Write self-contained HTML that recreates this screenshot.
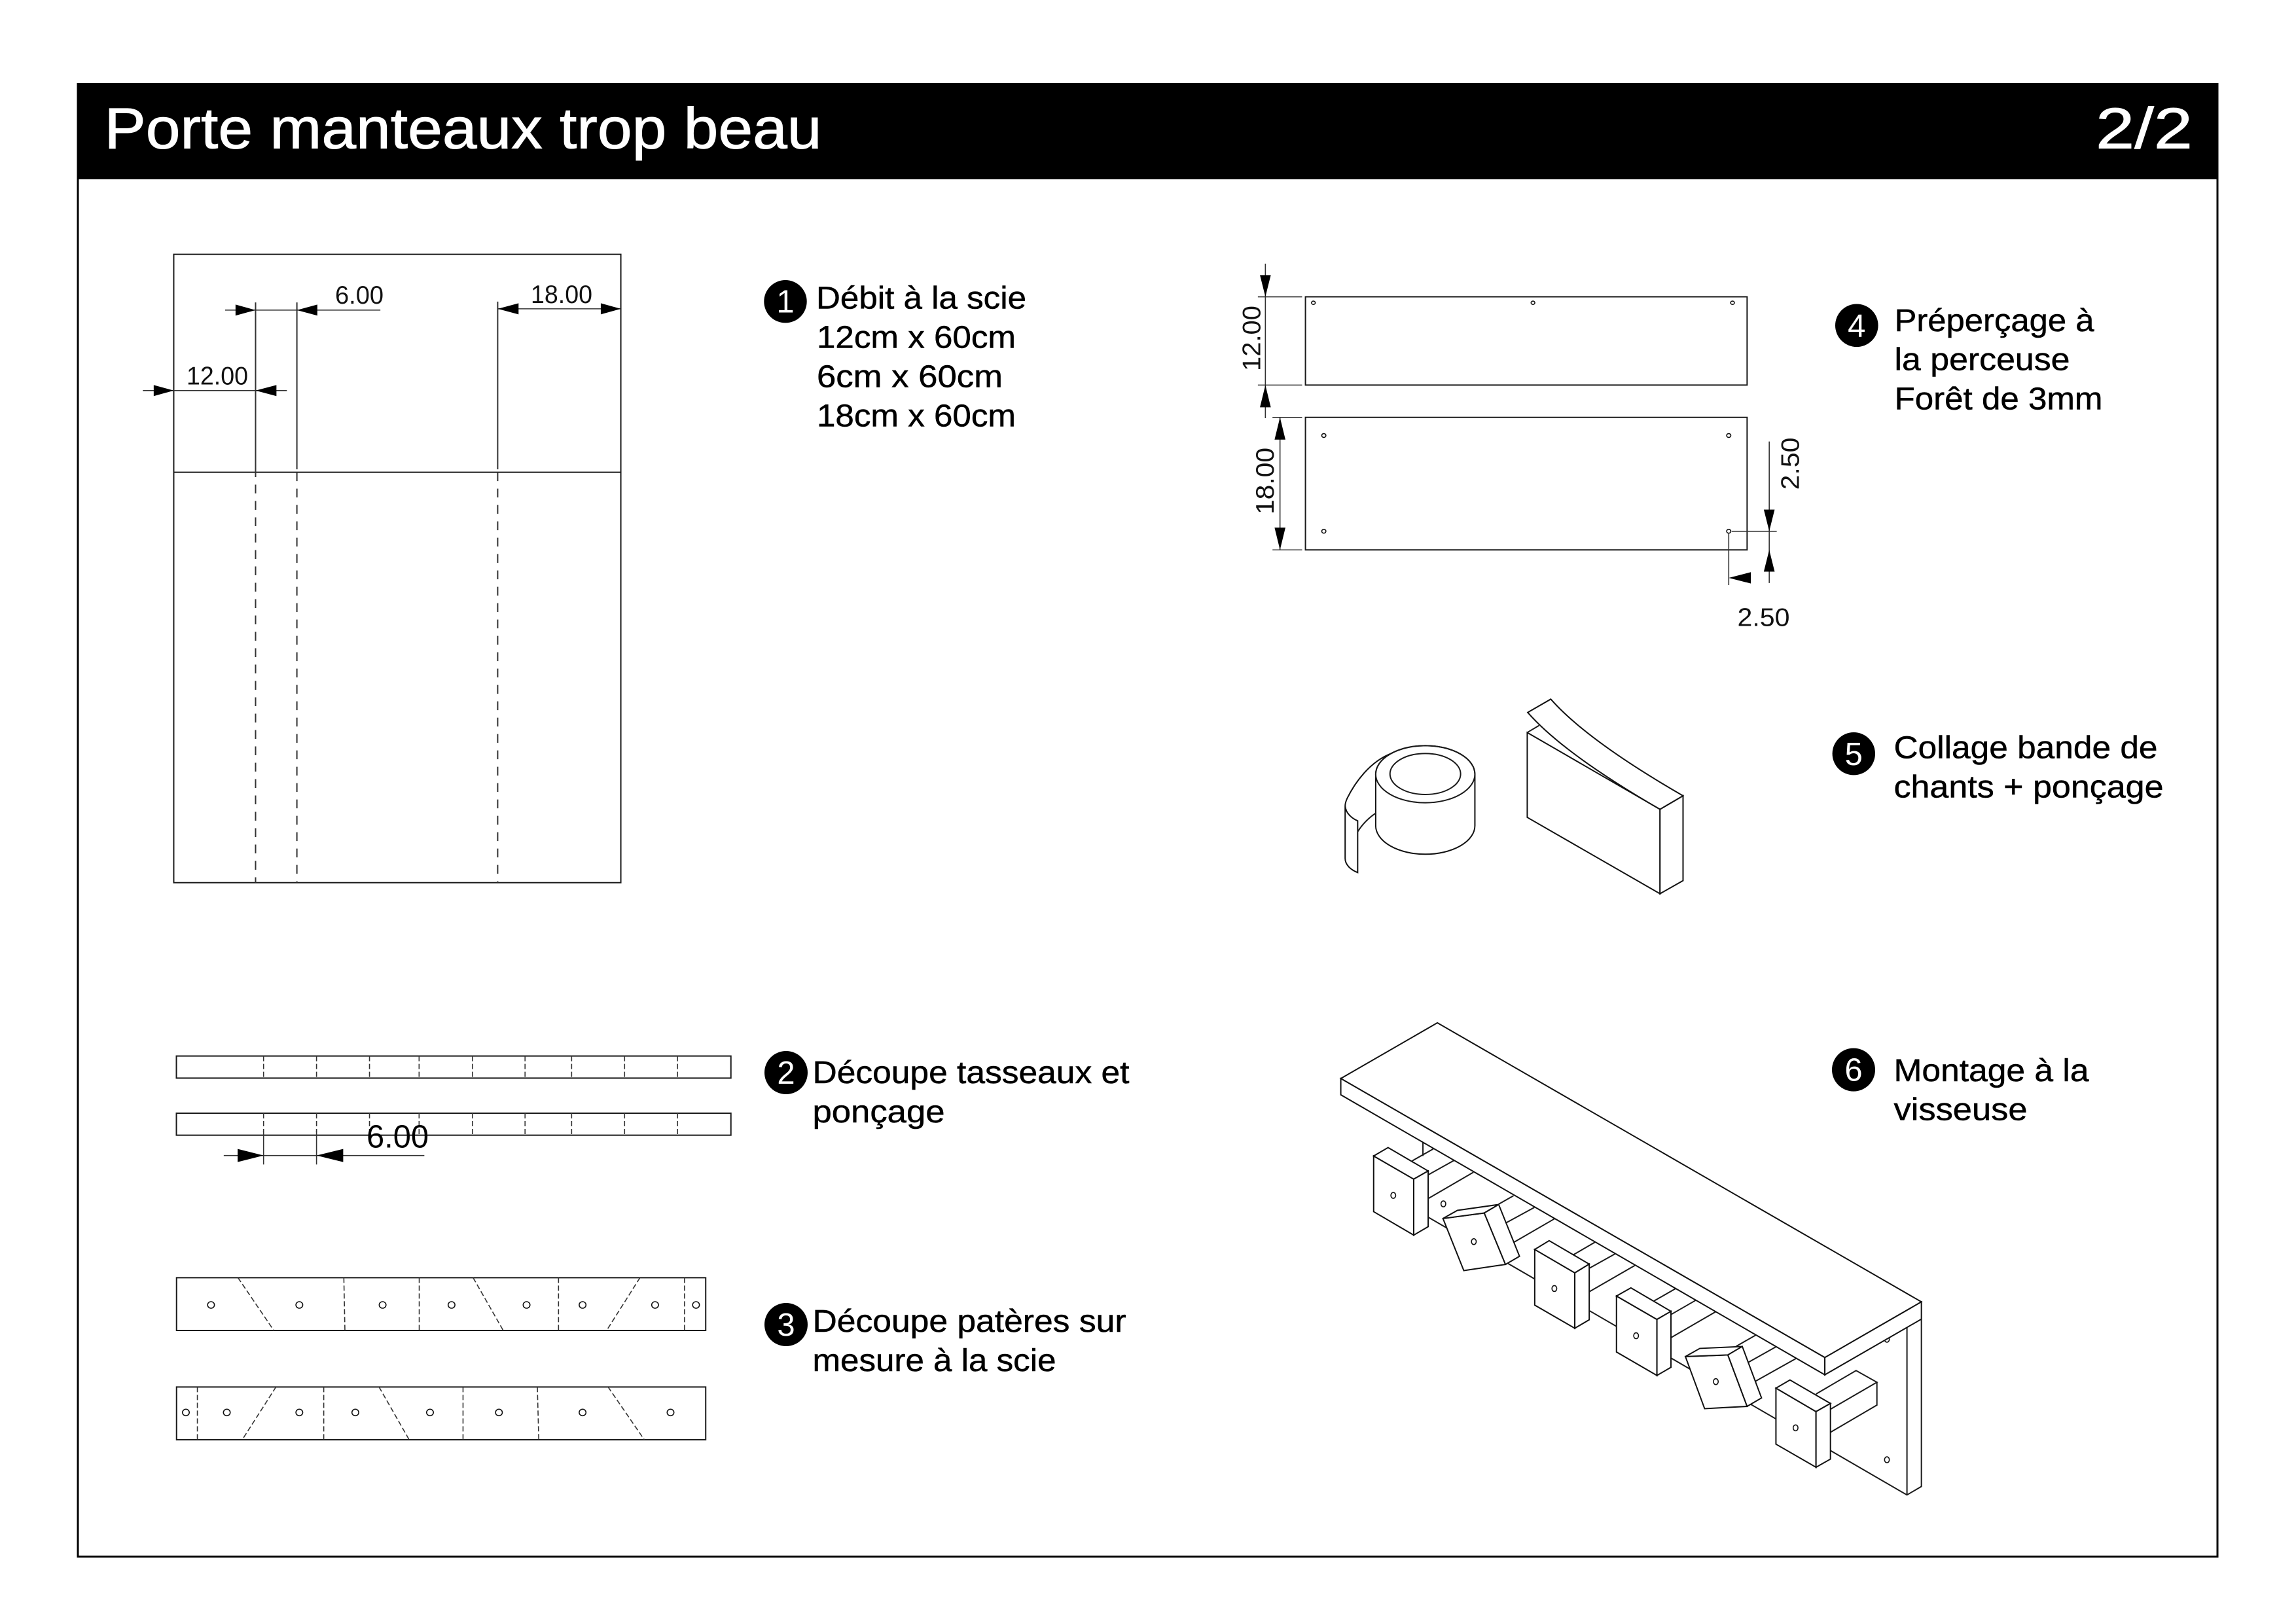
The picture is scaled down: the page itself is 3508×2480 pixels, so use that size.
<!DOCTYPE html>
<html lang="fr">
<head>
<meta charset="utf-8">
<title>Porte manteaux trop beau</title>
<style>
html,body{margin:0;padding:0;background:#fff}
svg{display:block}
text{font-family:"Liberation Sans",Arial,sans-serif;fill:#000}
.s *{vector-effect:non-scaling-stroke;stroke-linejoin:miter}
.t{font-size:48px;stroke:#000;stroke-width:.5px}
.d{font-size:39px;fill:#111}
.n{font-size:49px;fill:#fff;text-anchor:middle}
.l{fill:none;stroke:#1a1a1a;stroke-width:2}
.w{fill:#fff;stroke:#111;stroke-width:2}
.m{fill:none;stroke:#333;stroke-width:1.6}
.a{fill:#000;stroke:none}
.h{fill:#fff;stroke:#111;stroke-width:1.6}
</style>
</head>
<body>
<svg xmlns="http://www.w3.org/2000/svg" width="3508" height="2480" viewBox="0 0 3508 2480">
<rect width="3508" height="2480" fill="#fff"/>

<!-- frame and header -->
<rect x="119" y="128.500" width="3269" height="2250" fill="none" stroke="#000" stroke-width="3"/>
<rect x="118" y="128" width="3271" height="146" fill="#000"/>
<text x="159.500" y="226.700" font-size="88" style="fill:#fff;stroke:#fff;stroke-width:1px" textLength="1096" lengthAdjust="spacingAndGlyphs">Porte manteaux trop beau</text>
<text x="3202" y="226.700" font-size="88" style="fill:#fff;stroke:#fff;stroke-width:1px" textLength="148" lengthAdjust="spacingAndGlyphs">2/2</text>

<!-- Diagram 1 -->
<g class="s" transform="translate(180,360) scale(.6378,.6505)">
<rect class="l" x="134" y="44" width="1071" height="1476"/>
<path class="l" d="M134 556H1205"/>
<path class="m" style="stroke-width:2" d="M330 157V549M429 157V549M910 155V549"/>
<path class="m" style="stroke-width:2" stroke-dasharray="13.500 11.500" d="M330 546.500V1520M429 556V1520M910 556V1520"/>
<path class="m" d="M257 175H629M60 364H405M910 172H1205"/>
<path class="a" d="M330 175L282 162V188ZM429 175L478 162V188ZM134 364L86 351V377ZM330 364L380 351V377ZM910 172L960 159V185ZM1205 172L1157 159V185Z"/>
</g>
<text class="d" x="512" y="464" textLength="74" lengthAdjust="spacingAndGlyphs">6.00</text>
<text class="d" x="285" y="587.700" textLength="94" lengthAdjust="spacingAndGlyphs">12.00</text>
<text class="d" x="811" y="462.800" textLength="94" lengthAdjust="spacingAndGlyphs">18.00</text>

<circle cx="1200" cy="460.700" r="32.700" fill="#000"/>
<text class="n" x="1200" y="477.700">1</text>
<text class="t" x="1247" y="471.700" textLength="321" lengthAdjust="spacingAndGlyphs">Débit à la scie</text>
<text class="t" x="1248" y="531.700" textLength="304" lengthAdjust="spacingAndGlyphs">12cm x 60cm</text>
<text class="t" x="1248" y="591.700" textLength="284" lengthAdjust="spacingAndGlyphs">6cm x 60cm</text>
<text class="t" x="1248" y="651.700" textLength="304" lengthAdjust="spacingAndGlyphs">18cm x 60cm</text>

<!-- Diagram 2 -->
<g class="s" transform="translate(250,1600) scale(.574,.3333)">
<rect class="l" x="34" y="41" width="1476" height="101"/>
<rect class="l" x="34" y="303" width="1476" height="101"/>
<path class="m" stroke-dasharray="8 4" d="M266 41V142M407 41V142M548 41V142M680 41V142M822 41V142M962 41V142M1086 41V142M1227 41V142M1368 41V142M266 303V390M407 303V390M548 303V404M680 303V404M822 303V404M962 303V404M1086 303V404M1227 303V404M1368 303V404"/>
<path class="m" d="M266 385V538M407 385V538M160 497H694"/>
<path class="a" d="M266 497L197 467V527ZM407 497L478 467V527Z"/>
</g>
<text x="560" y="1753.300" font-size="49" textLength="95" lengthAdjust="spacingAndGlyphs">6.00</text>

<circle cx="1201" cy="1639" r="33" fill="#000"/>
<text class="n" x="1201" y="1656">2</text>
<text class="t" x="1241.500" y="1655" textLength="484" lengthAdjust="spacingAndGlyphs">Découpe tasseaux et</text>
<text class="t" x="1241.500" y="1715" textLength="202" lengthAdjust="spacingAndGlyphs">ponçage</text>

<!-- Diagram 3 -->
<g class="s" transform="translate(250,1940) scale(.5485,.3333)">
<rect class="l" x="36" y="37" width="1474" height="242"/>
<rect class="l" x="36" y="538" width="1474" height="242"/>
<path class="m" stroke-dasharray="8 4" d="M207 37L307 279M502 37L505 279M712 37V279M862 37L946 279M1100 37V279M1327 37L1234 279M1451 37V279M94 538V780M313 538L219 780M446 538V780M600 538L684 780M834 538V780M1041 538L1045 780M1238 538L1339 780"/>
<g class="h">
<ellipse cx="132" cy="162" rx="9.500" ry="15"/><ellipse cx="378" cy="162" rx="9.500" ry="15"/><ellipse cx="610" cy="162" rx="9.500" ry="15"/><ellipse cx="802" cy="162" rx="9.500" ry="15"/><ellipse cx="1011" cy="162" rx="9.500" ry="15"/><ellipse cx="1167" cy="162" rx="9.500" ry="15"/><ellipse cx="1369" cy="162" rx="9.500" ry="15"/><ellipse cx="1483" cy="162" rx="9.500" ry="15"/>
<ellipse cx="62" cy="655" rx="9.500" ry="15"/><ellipse cx="176" cy="655" rx="9.500" ry="15"/><ellipse cx="378" cy="655" rx="9.500" ry="15"/><ellipse cx="534" cy="655" rx="9.500" ry="15"/><ellipse cx="742" cy="655" rx="9.500" ry="15"/><ellipse cx="934" cy="655" rx="9.500" ry="15"/><ellipse cx="1167" cy="655" rx="9.500" ry="15"/><ellipse cx="1412" cy="655" rx="9.500" ry="15"/>
</g>
</g>

<circle cx="1201" cy="2024" r="33" fill="#000"/>
<text class="n" x="1201" y="2041">3</text>
<text class="t" x="1241.500" y="2035" textLength="479" lengthAdjust="spacingAndGlyphs">Découpe patères sur</text>
<text class="t" x="1241.500" y="2095" textLength="372" lengthAdjust="spacingAndGlyphs">mesure à la scie</text>

<!-- Diagram 4 -->
<g class="s" transform="translate(1860,380) scale(.6378,.3954)">
<rect class="l" x="211" y="186" width="1058" height="341"/>
<rect class="l" x="211" y="652" width="1058" height="512"/>
<g class="h">
<ellipse cx="230" cy="209" rx="4.500" ry="6.500"/><ellipse cx="756" cy="209" rx="4.500" ry="6.500"/><ellipse cx="1234" cy="209" rx="4.500" ry="6.500"/>
<ellipse cx="255" cy="722" rx="5" ry="7.500"/><ellipse cx="1225" cy="722" rx="5" ry="7.500"/><ellipse cx="255" cy="1092" rx="5" ry="7.500"/><ellipse cx="1225" cy="1092" rx="5" ry="7.500"/>
</g>
<path class="m" d="M115 58V655M97 186H203M97 527H203M150 652V1164M132 652H203M132 1164H203M1322 745V1292M1232 1092H1340M1225 1100V1300"/>
<path class="a" d="M115 186L102 102H128ZM115 527L102 613H128ZM150 652L137 738H163ZM150 1164L137 1078H163ZM1322 1092L1309 1008H1335ZM1322 1164L1309 1248H1335ZM1225 1272L1278 1250V1294Z"/>
</g>
<text class="d" font-size="40" transform="translate(1925.700,567) rotate(-90)" textLength="100" lengthAdjust="spacingAndGlyphs">12.00</text>
<text class="d" font-size="40" transform="translate(1946,786) rotate(-90)" textLength="102" lengthAdjust="spacingAndGlyphs">18.00</text>
<text class="d" font-size="40" transform="translate(2748.400,748.500) rotate(-90)" textLength="80" lengthAdjust="spacingAndGlyphs">2.50</text>
<text class="d" x="2654.500" y="956.500" textLength="80" lengthAdjust="spacingAndGlyphs">2.50</text>

<circle cx="2836.800" cy="497.300" r="32.800" fill="#000"/>
<text class="n" x="2836.800" y="514.300">4</text>
<text class="t" x="2894.500" y="506" textLength="305" lengthAdjust="spacingAndGlyphs">Préperçage à</text>
<text class="t" x="2894.500" y="565.700" textLength="268" lengthAdjust="spacingAndGlyphs">la perceuse</text>
<text class="t" x="2894.500" y="625.700" textLength="318" lengthAdjust="spacingAndGlyphs">Forêt de 3mm</text>

<!-- Diagram 5 -->
<g class="s" transform="translate(2020,1040) scale(.3827,.3333)">
<path class="w" d="M280 332C190 370 130 470 100 540Q92 560 92 575V815C92 845 115 868 142 880V643C120 632 95 610 92 575"/>
<path class="l" d="M142 693C160 660 185 630 214 608"/>
<path class="w" d="M214 429A198 131 0 0 1 610 429V665A198 131 0 0 1 214 665Z"/>
<ellipse class="l" cx="412" cy="429" rx="198" ry="131"/>
<ellipse class="l" cx="412" cy="428" rx="141" ry="94"/>
<path class="w" d="M819 238L1349 590V977L819 627Z"/>
<path class="w" d="M1349 590L1441 528V917L1349 977Z"/>
<path class="l" d="M819 238L866 206"/>
<path class="w" d="M821 146L913 85Q1058 274 1441 528L1349 590Q966 336 821 146Z"/>
</g>

<circle cx="2832.300" cy="1151.700" r="32.700" fill="#000"/>
<text class="n" x="2832.300" y="1169">5</text>
<text class="t" x="2893.500" y="1158.500" textLength="403" lengthAdjust="spacingAndGlyphs">Collage bande de</text>
<text class="t" x="2893.500" y="1218.500" textLength="412" lengthAdjust="spacingAndGlyphs">chants + ponçage</text>

<!-- Diagram 6 -->
<g class="s" transform="translate(2040,1550) scale(.6122,.4975)">
<path class="l" d="M219 392V435M200 600L1427 1476L1463 1450V936M1427 1476V960"/>
<path class="l" d="M245 413L192 450M296 449L232 493M345 485L233 565M445 557L408 583M497 593L427 640M547 628L446 700M648 700L595 738M698 736L634 780M748 771L634 852M850 842L796 880M900 878L838 922M950 913L838 993M1050 985L1000 1020M1100 1021L1032 1068M1150 1057L1040 1133"/>
<path class="l" d="M1200 1166L1300 1094L1352 1130L1237 1212M1352 1130V1200L1237 1283"/>
<g class="h"><ellipse cx="270" cy="582" rx="6" ry="9"/><ellipse cx="1377" cy="998" rx="6" ry="9"/><ellipse cx="1377" cy="1368" rx="6" ry="9"/></g>
<path class="w" d="M14 197L255 26L1463 883L1222 1054Z"/>
<path class="w" d="M14 197V247L1222 1107V1054Z"/>
<path class="w" d="M1222 1054L1463 883V936L1222 1107Z"/>
<g class="w">
<path d="M96 435L196 506V678L96 606Z"/><path d="M96 435L132 409L232 481L196 506Z"/><path d="M196 506L232 481V652L196 678Z"/>
<path d="M269 627L372 610L425 768L321 787Z"/><path d="M269 627L305 602L408 584L372 610Z"/><path d="M408 584L460 743L425 768L372 610Z"/>
<path d="M498 722L598 794V964L498 893Z"/><path d="M498 722L534 695L634 767L598 794Z"/><path d="M598 794L634 767V938L598 964Z"/>
<path d="M702 865L803 937V1109L702 1037Z"/><path d="M702 865L738 840L838 912L803 937Z"/><path d="M803 937L838 912V1084L803 1109Z"/>
<path d="M874 1051L980 1046L1028 1204L922 1211Z"/><path d="M874 1051L910 1026L1016 1020L980 1046Z"/><path d="M1016 1020L1064 1178L1028 1204L980 1046Z"/>
<path d="M1100 1148L1200 1220V1391L1100 1320Z"/><path d="M1100 1148L1135 1123L1236 1195L1200 1220Z"/><path d="M1200 1220L1236 1195V1366L1200 1391Z"/>
</g>
<g class="h"><ellipse cx="145" cy="556" rx="6" ry="9"/><ellipse cx="346" cy="698" rx="6" ry="9"/><ellipse cx="547" cy="842" rx="6" ry="9"/><ellipse cx="751" cy="987" rx="6" ry="9"/><ellipse cx="950" cy="1128" rx="6" ry="9"/><ellipse cx="1149" cy="1270" rx="6" ry="9"/></g>
</g>

<circle cx="2832" cy="1634.600" r="33" fill="#000"/>
<text class="n" x="2832" y="1651.600">6</text>
<text class="t" x="2893.500" y="1652" textLength="298" lengthAdjust="spacingAndGlyphs">Montage à la</text>
<text class="t" x="2893.500" y="1711.700" textLength="204" lengthAdjust="spacingAndGlyphs">visseuse</text>
</svg>
</body>
</html>
